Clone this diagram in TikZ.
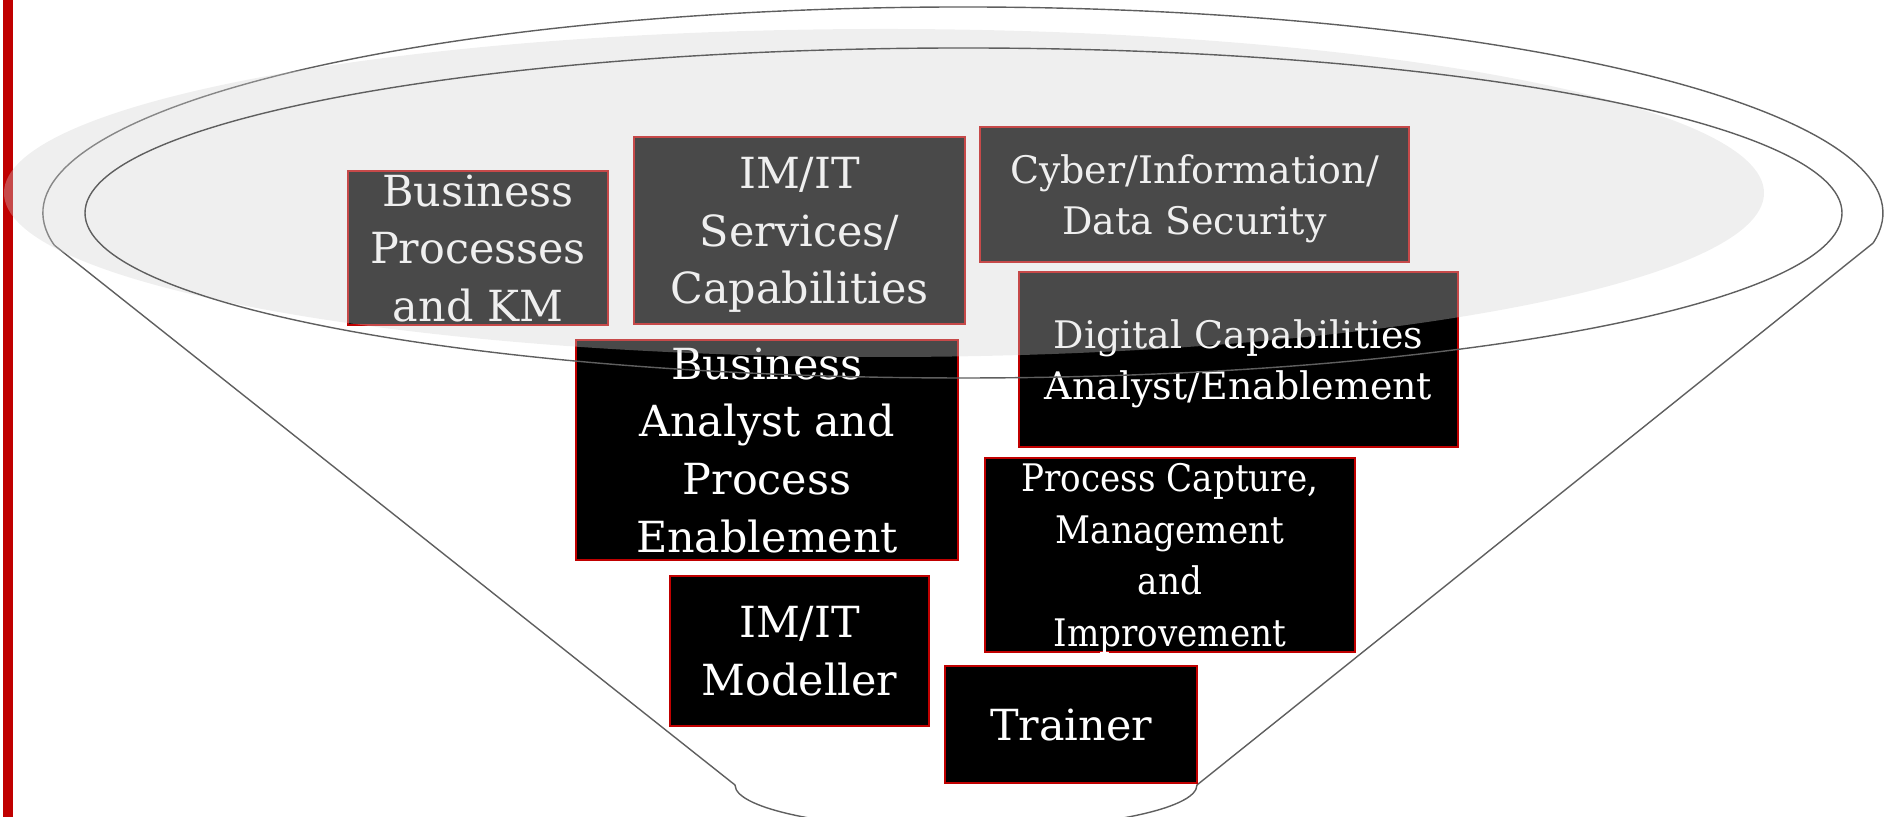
\documentclass[tikz,border=0pt]{standalone}
\usepackage{fontspec}
\setmainfont{DejaVu Serif}
\newfontfamily\narrowserif[FakeStretch=0.9]{DejaVu Serif}
\usepackage{tikz}
\definecolor{roleRed}{RGB}{192,0,0}
\definecolor{funnelGray}{RGB}{95,95,95}
\definecolor{hazeGray}{RGB}{210,210,210}

\begin{document}
\begin{tikzpicture}
  [x=0.1mm,y=0.1mm,
   role/.style={draw=roleRed,line width=0.6pt,fill=black,text=white,
     align=center,inner sep=0pt,text depth=0pt},
   big/.style={font=\fontsize{12.2}{16.4}\selectfont},
   small/.style={font=\fontsize{10.8}{14.7}\selectfont},
   narrow/.style={font=\narrowserif\fontsize{10.8}{14.7}\selectfont},
   funnel/.style={draw=funnelGray,line width=0.4pt}]
  \useasboundingbox (0,0) rectangle (1894,817);
  \clip (0,0) rectangle (1894,817);

  \fill[roleRed] (3.5,0) rectangle (12.5,817);

  \draw[funnel] (963,604) ++(189:920 and 206) coordinate (rimL)
    arc[start angle=189,end angle=-8.4,x radius=920,y radius=206] coordinate (rimR);
  \coordinate (tipL) at (735,32);
  \coordinate (tipR) at (1197,32);
  \draw[funnel] (rimL) -- (tipL)
    arc[start angle=180,end angle=360,x radius=231,y radius=45] -- (rimR);

  \node[role,big,minimum width=26mm,minimum height=15.4mm] (procKM) at (478,569) {Business\\Processes\\and KM};
  \node[role,big,minimum width=33.1mm,minimum height=18.7mm] (itServices) at (799.5,586.5) {IM/IT\\Services/\\Capabilities};
  \node[role,small,minimum width=42.9mm,minimum height=13.5mm] (cyberSec) at (1194.5,622.5) {Cyber/Information/\\Data Security};
  \node[role,small,minimum width=43.9mm,minimum height=17.5mm] (digitalCap) at (1238.5,457.5) {Digital Capabilities\\Analyst/Enablement};
  \node[role,big,minimum width=38.2mm,minimum height=22mm] (baProcess) at (767,367) {Business\\Analyst and\\Process\\Enablement};
  \node[role,narrow,minimum width=37mm,minimum height=19.4mm] (processCapture) at (1170,262) {Process Capture,\\Management\\and\\Improvement};
  \node[role,big,minimum width=25.9mm,minimum height=15mm] (itModeller) at (799.5,166) {IM/IT\\Modeller};
  \node[role,big,minimum width=25.2mm,minimum height=11.7mm] (trainer) at (1071,92.5) {Trainer};

  \fill[hazeGray,fill opacity=0.35] (884,624) ellipse [x radius=880,y radius=164];
  \draw[funnel] (963.5,604) ellipse [x radius=878.5,y radius=165];
\end{tikzpicture}
\end{document}
